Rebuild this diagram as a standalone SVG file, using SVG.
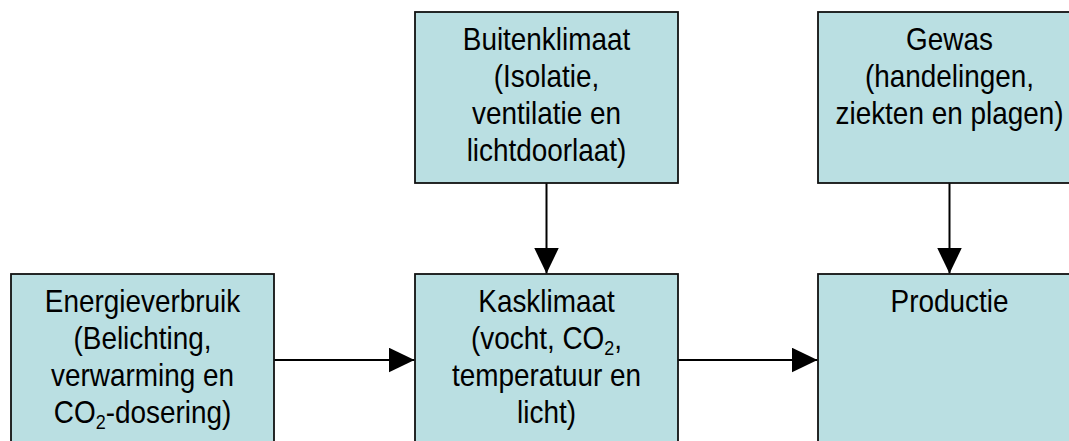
<svg xmlns="http://www.w3.org/2000/svg" width="1069" height="441" viewBox="0 0 1069 441">
<style>
.box{fill:#BADFE2;stroke:#111;stroke-width:1.8}
.t{font-family:"Liberation Sans",Arial,sans-serif;font-size:31px;fill:#000;text-anchor:middle}
.sub{font-size:20px}
.c{stroke:#000;stroke-width:2;fill:none}
</style>
<defs>
<marker id="ah" markerUnits="userSpaceOnUse" markerWidth="27" markerHeight="26" refX="26" refY="12.5" orient="auto">
<path d="M0,0 L26,12.5 L0,25 z" fill="#000"/>
</marker>
</defs>
<rect width="1069" height="441" fill="#fff"/>
<g id="connectors">
<line class="c" x1="546.5" y1="183" x2="546.5" y2="273.5" marker-end="url(#ah)"/>
<line class="c" x1="949.5" y1="183" x2="949.5" y2="273.5" marker-end="url(#ah)"/>
<line class="c" x1="274" y1="360" x2="414.5" y2="360" marker-end="url(#ah)"/>
<line class="c" x1="678" y1="360" x2="817.5" y2="360" marker-end="url(#ah)"/>
</g>
<g id="buitenklimaat">
<rect class="box" x="415" y="12" width="263" height="171"/>
<g transform="translate(546.5 0) scale(0.9 1)">
<text class="t" x="0" y="50">Buitenklimaat</text>
<text class="t" x="0" y="87">(Isolatie,</text>
<text class="t" x="0" y="124">ventilatie en</text>
<text class="t" x="0" y="161">lichtdoorlaat)</text>
</g>
</g>
<g id="gewas">
<rect class="box" x="818" y="12" width="263" height="171"/>
<g transform="translate(949.5 0) scale(0.9 1)">
<text class="t" x="0" y="50">Gewas</text>
<text class="t" x="0" y="87">(handelingen,</text>
<text class="t" x="0" y="124">ziekten en plagen)</text>
</g>
</g>
<g id="energieverbruik">
<rect class="box" x="11" y="274" width="263" height="171"/>
<g transform="translate(142.5 0) scale(0.9 1)">
<text class="t" x="0" y="312">Energieverbruik</text>
<text class="t" x="0" y="349">(Belichting,</text>
<text class="t" x="0" y="386">verwarming en</text>
<text class="t" x="0" y="423">CO<tspan class="sub" dy="6">2</tspan><tspan dy="-6">-dosering)</tspan></text>
</g>
</g>
<g id="kasklimaat">
<rect class="box" x="415" y="274" width="263" height="171"/>
<g transform="translate(546.5 0) scale(0.9 1)">
<text class="t" x="0" y="312">Kasklimaat</text>
<text class="t" x="0" y="349">(vocht, CO<tspan class="sub" dy="6">2</tspan><tspan dy="-6">,</tspan></text>
<text class="t" x="0" y="386">temperatuur en</text>
<text class="t" x="0" y="423">licht)</text>
</g>
</g>
<g id="productie">
<rect class="box" x="818" y="274" width="263" height="171"/>
<g transform="translate(949.5 0) scale(0.9 1)">
<text class="t" x="0" y="312">Productie</text>
</g>
</g>
</svg>
